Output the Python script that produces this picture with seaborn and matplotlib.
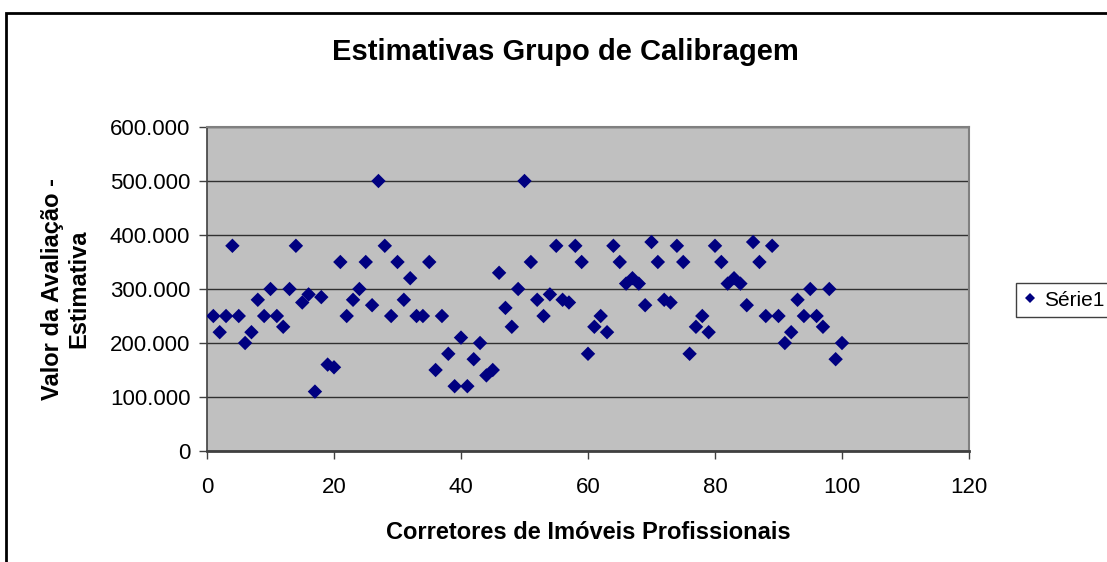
import pandas as pd
import seaborn as sns
import matplotlib
import matplotlib.pyplot as plt
from matplotlib.patches import Rectangle
from matplotlib.ticker import FuncFormatter

matplotlib.use("Agg")

# Data (x = broker number, y = estimate in R$)
corretores = list(range(1, 101))
estimativas = [
    250000, 220000, 250000, 380000, 250000, 200000, 220000, 280000, 250000, 300000,
    250000, 230000, 300000, 380000, 275000, 290000, 110000, 285000, 160000, 155000,
    350000, 250000, 280000, 300000, 350000, 270000, 500000, 380000, 250000, 350000,
    280000, 320000, 250000, 250000, 350000, 150000, 250000, 180000, 120000, 210000,
    120000, 170000, 200000, 140000, 150000, 330000, 265000, 230000, 300000, 500000,
    350000, 280000, 250000, 290000, 380000, 280000, 275000, 380000, 350000, 180000,
    230000, 250000, 220000, 380000, 350000, 310000, 320000, 310000, 270000, 387000,
    350000, 280000, 275000, 380000, 350000, 180000, 230000, 250000, 220000, 380000,
    350000, 310000, 320000, 310000, 270000, 387000, 350000, 250000, 380000, 250000,
    200000, 220000, 280000, 250000, 300000, 250000, 230000, 300000, 170000, 200000,
]
x_ticks = [0, 20, 40, 60, 80, 100, 120]
y_ticks = [0, 100000, 200000, 300000, 400000, 500000, 600000]

df = pd.DataFrame({"x": corretores, "y": estimativas, "serie": "Série1"})

sns.set_theme(style="white")
plt.rcParams["font.family"] = ["Liberation Sans", "DejaVu Sans"]
plt.rcParams["text.color"] = "black"
plt.rcParams["axes.labelcolor"] = "black"

W, H = 1107, 562
fig = plt.figure(figsize=(W / 100, H / 100), dpi=100)
ax = fig.add_axes([207 / W, 1 - 451 / H, (969 - 207) / W, (451 - 127) / H])
ax.set_facecolor("#C0C0C0")

sns.scatterplot(data=df, x="x", y="y", hue="serie", palette=["#000080"],
                marker="D", s=54, linewidth=0, ax=ax, zorder=3)

ax.set_xlim(0, 120)
ax.set_ylim(0, 600000)
ax.set_xticks(x_ticks)
ax.set_yticks(y_ticks)
ax.yaxis.set_major_formatter(FuncFormatter(
    lambda v, p: "0" if v == 0 else f"{int(v):,}".replace(",", ".")))
ax.grid(axis="y", color="#303030", linewidth=1.0, zorder=1)
ax.set_axisbelow(True)

for side in ["top", "right"]:
    ax.spines[side].set_color("#808080")
    ax.spines[side].set_linewidth(1.5)
ax.spines["left"].set_color("#404040")
ax.spines["left"].set_linewidth(1.2)
ax.spines["bottom"].set_color("#404040")
ax.spines["bottom"].set_linewidth(2)

ax.tick_params(axis="both", which="both", direction="out", length=6, width=1,
               color="#404040", labelsize=16, labelcolor="black", pad=6,
               left=True, bottom=True)
ax.tick_params(axis="x", pad=13)

ax.set_xlabel("Corretores de Imóveis Profissionais", fontsize=17, fontweight="bold", labelpad=16)
ax.set_ylabel("Valor da Avaliação -\nEstimativa", fontsize=17, fontweight="bold", labelpad=14)

fig.text(565 / W, 1 - 52 / H, "Estimativas Grupo de Calibragem", fontsize=21,
         fontweight="bold", ha="center", va="center")

handles, labels = ax.get_legend_handles_labels()
ax.legend(handles, labels, loc="upper left", bbox_to_anchor=(1006 / W, 1 - 273 / H),
          bbox_transform=fig.transFigure, frameon=True, fancybox=False,
          edgecolor="#404040", fontsize=15, markerscale=0.65, handlelength=0.6,
          handletextpad=0.4, borderpad=0.35, framealpha=1)
ax.get_legend().get_frame().set_linewidth(1)

# outer chart frame (extends past the right and bottom of the image)
fig.add_artist(Rectangle((6 / W, -0.1), 1.2, 1 - 13 / H + 0.1, transform=fig.transFigure,
                         fill=False, edgecolor="black", linewidth=2, clip_on=False))

fig.savefig("out.png", dpi=100)
